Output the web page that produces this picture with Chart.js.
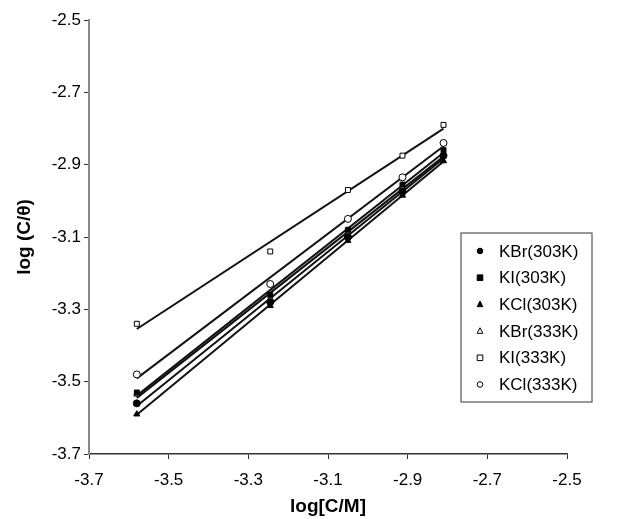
<!DOCTYPE html>
<html>
<head>
<meta charset="utf-8">
<script src="https://cdn.jsdelivr.net/npm/chart.js@4.4.1/dist/chart.umd.min.js"></script>
<style>
  body { margin: 0; background: #fff; }
</style>
</head>
<body>
<canvas id="isotherm-chart" width="638" height="519"></canvas>
<script>
// Langmuir isotherm data, log(C/theta) against log C

const LOG_C = [-3.58, -3.245, -3.05, -2.913, -2.81];

const KBR_303 = [-3.56, -3.28, -3.10, -2.975, -2.875];
const KI_303 = [-3.53, -3.26, -3.08, -2.955, -2.86];
const KCL_303 = [-3.59, -3.29, -3.11, -2.985, -2.89];
const KBR_333 = [-3.535, -3.27, -3.09, -2.965, -2.87];
const KI_333 = [-3.34, -3.14, -2.97, -2.875, -2.79];
const KCL_333 = [-3.48, -3.23, -3.05, -2.935, -2.84];

const SERIES_NAMES = ['KBr(303K)', 'KI(303K)', 'KCl(303K)', 'KBr(333K)', 'KI(333K)', 'KCl(333K)'];

const X_TICKS = [-3.7, -3.5, -3.3, -3.1, -2.9, -2.7, -2.5];
const Y_TICKS = [-3.7, -3.5, -3.3, -3.1, -2.9, -2.7, -2.5];

const FONT = "'Liberation Sans', Arial, sans-serif";

const series = [
    { name: SERIES_NAMES[0], y: KBR_303, style: 'circle', fill: true },
    { name: SERIES_NAMES[1], y: KI_303, style: 'rect', fill: true },
    { name: SERIES_NAMES[2], y: KCL_303, style: 'triangle', fill: true },
    { name: SERIES_NAMES[3], y: KBR_333, style: 'triangle', fill: false },
    { name: SERIES_NAMES[4], y: KI_333, style: 'rect', fill: false },
    { name: SERIES_NAMES[5], y: KCL_333, style: 'circle', fill: false },
];

// least squares trend line over the data range
function trend(xs, ys) {
    const n = xs.length;
    let sx = 0, sy = 0, sxx = 0, sxy = 0;
    for (let i = 0; i < n; i++) {
        sx += xs[i]; sy += ys[i];
        sxx += xs[i] * xs[i]; sxy += xs[i] * ys[i];
    }
    const b = (n * sxy - sx * sy) / (n * sxx - sx * sx);
    const a = (sy - b * sx) / n;
    const x0 = Math.min(...xs), x1 = Math.max(...xs);
    return [{ x: x0, y: a + b * x0 }, { x: x1, y: a + b * x1 }];
}

const datasets = [];
series.forEach(s => {
    datasets.push({
        label: s.name + ' trend',
        data: trend(LOG_C, s.y),
        showLine: true,
        borderColor: '#111',
        borderWidth: 2,
        pointRadius: 0,
        order: 2,
    });
});
series.forEach(s => {
    datasets.push({
        label: s.name,
        data: LOG_C.map((x, i) => ({ x: x, y: s.y[i] })),
        showLine: false,
        pointStyle: s.style,
        pointRadius: 3.5,
        backgroundColor: s.fill ? '#000' : '#fff',
        borderColor: '#000',
        borderWidth: 1,
        order: 1,
    });
});

function drawMarker(ctx, style, fill, x, y, r) {
    ctx.beginPath();
    if (style === 'circle') {
        ctx.arc(x, y, r, 0, Math.PI * 2);
    } else if (style === 'rect') {
        ctx.rect(x - r, y - r, r * 2, r * 2);
    } else {
        ctx.moveTo(x, y - r * 1.2);
        ctx.lineTo(x + r, y + r * 0.8);
        ctx.lineTo(x - r, y + r * 0.8);
        ctx.closePath();
    }
    ctx.fillStyle = fill ? '#000' : '#fff';
    ctx.fill();
    ctx.lineWidth = 1;
    ctx.strokeStyle = '#000';
    ctx.stroke();
}

const boxLegend = {
    id: 'boxLegend',
    afterDraw(chart) {
        const ctx = chart.ctx;
        const left = 461, top = 233, w = 131, h = 169;
        ctx.save();
        ctx.fillStyle = '#fff';
        ctx.fillRect(left, top, w, h);
        ctx.strokeStyle = '#555';
        ctx.lineWidth = 1.2;
        ctx.strokeRect(left, top, w, h);
        ctx.font = '17px ' + FONT;
        ctx.textBaseline = 'middle';
        series.forEach((s, i) => {
            const y = top + 18 + i * 26.7;
            drawMarker(ctx, s.style, s.fill, left + 19, y, 2.8);
            ctx.fillStyle = '#000';
            ctx.fillText(s.name, left + 38, y + 1);
        });
        ctx.restore();
    }
};

const isoChart = new Chart(document.getElementById('isotherm-chart'), {
    type: 'scatter',
    data: { datasets: datasets },
    plugins: [boxLegend],
    options: {
        responsive: false,
        animation: false,
        layout: { padding: { top: 20, right: 71, bottom: 0, left: 0 } },
        plugins: {
            legend: { display: false },
            tooltip: { enabled: false },
        },
        scales: {
            x: {
                type: 'linear',
                min: -3.7,
                max: -2.5,
                afterBuildTicks: scale => { scale.ticks = X_TICKS.map(v => ({ value: v })); },
                afterFit: scale => { scale.height = 65; },
                border: { color: '#333', width: 1.5 },
                grid: { drawOnChartArea: false, tickLength: 5, color: '#333' },
                ticks: {
                    color: '#000',
                    font: { family: FONT, size: 17 },
                    padding: 11,
                    maxRotation: 0,
                    callback: v => v.toFixed(1),
                },
                title: {
                    display: true,
                    text: 'log[C/M]',
                    color: '#000',
                    font: { family: FONT, size: 19, weight: 'bold' },
                    padding: { top: 0, bottom: 1 },
                },
            },
            y: {
                type: 'linear',
                min: -3.7,
                max: -2.5,
                afterBuildTicks: scale => { scale.ticks = Y_TICKS.map(v => ({ value: v })); },
                afterFit: scale => { scale.width = 89; },
                border: { color: '#888', width: 2 },
                grid: { drawOnChartArea: false, tickLength: 5, color: '#333' },
                ticks: {
                    color: '#000',
                    font: { family: FONT, size: 17 },
                    padding: 3,
                    callback: v => v.toFixed(1),
                },
                title: {
                    display: true,
                    text: 'log (C/θ)',
                    color: '#000',
                    font: { family: FONT, size: 19, weight: 'bold' },
                    padding: { top: 13, bottom: 0 },
                },
            },
        },
    },
});
</script>
</body>
</html>
